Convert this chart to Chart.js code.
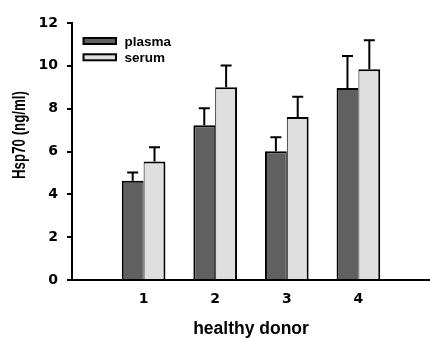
<!DOCTYPE html>
<html><head><meta charset="utf-8">
<script src="https://cdn.jsdelivr.net/npm/chart.js@4.4.1/dist/chart.umd.min.js"></script>
<style>html,body{margin:0;padding:0;background:#fff}#wrap{width:430px;height:338px;position:relative}</style>
</head><body><div id="wrap"><canvas id="c"></canvas></div>
<script>
// ---- data ----
const categories = ['1', '2', '3', '4'];
const seriesNames = ['plasma', 'serum'];
const plasma = [4.63, 7.22, 6.01, 8.96];
const plasmaErr = [0.39, 0.80, 0.65, 1.50];
const serum = [5.53, 9.00, 7.61, 9.84];
const serumErr = [0.67, 1.02, 0.95, 1.35];
const yTicks = [0, 2, 4, 6, 8, 10, 12];
const xTitle = 'healthy donor';
const yTitle = 'Hsp70 (ng/ml)';

const FONT = '"Liberation Sans", Arial, sans-serif';
const TICKFONT = '"DejaVu Sans", "Liberation Sans", sans-serif';
const labels = [''].concat(categories, ['']);
const pad = arr => [null].concat(arr, [null]);
const errs = [plasmaErr, serumErr];

const errorBarPlugin = {
  id: 'errorBars',
  afterDatasetsDraw(chart) {
    const ctx = chart.ctx, y = chart.scales.y;
    ctx.save();
    ctx.strokeStyle = '#000';
    ctx.lineWidth = 2;
    chart.data.datasets.forEach((ds, i) => {
      const meta = chart.getDatasetMeta(i);
      meta.data.forEach((el, j) => {
        const v = ds.data[j];
        if (v === null || v === undefined) return;
        const e = errs[i][j - 1];
        const x = el.x, y0 = el.y, y1 = y.getPixelForValue(v + e);
        ctx.beginPath();
        ctx.moveTo(x, y0); ctx.lineTo(x, y1);
        ctx.moveTo(x - 5.5, y1); ctx.lineTo(x + 5.5, y1);
        ctx.stroke();
      });
    });
    ctx.restore();
  }
};

const legendPlugin = {
  id: 'insideLegend',
  afterDraw(chart) {
    const ctx = chart.ctx;
    ctx.save();
    chart.data.datasets.forEach((ds, i) => {
      const top = 37 + i * 16.3;
      ctx.fillStyle = '#000';
      ctx.fillRect(82.5, top, 34.5, 8);
      ctx.fillStyle = ds.backgroundColor;
      ctx.fillRect(84.5, top + 2, 30.5, 4);
      ctx.fillStyle = '#000';
      ctx.font = 'bold 13.5px ' + FONT;
      ctx.textAlign = 'left';
      ctx.textBaseline = 'alphabetic';
      ctx.fillText(ds.label, 124.5, 45.7 + i * 16.6);
    });
    ctx.restore();
  }
};

const yTitlePlugin = {
  id: 'yTitle',
  afterDraw(chart) {
    const ctx = chart.ctx;
    ctx.save();
    ctx.font = 'bold 18px ' + FONT;
    const w = ctx.measureText(yTitle).width;
    ctx.translate(19.5, 135);
    ctx.rotate(-Math.PI / 2);
    ctx.scale(88 / w, 1);
    ctx.fillStyle = '#000';
    ctx.textAlign = 'center';
    ctx.textBaseline = 'middle';
    ctx.fillText(yTitle, 0, 1);
    ctx.restore();
  }
};

new Chart(document.getElementById('c'), {
  type: 'bar',
  data: {
    labels: labels,
    datasets: [
      { label: seriesNames[0], data: pad(plasma), backgroundColor: '#606060', borderColor: '#000',
        borderWidth: { left: 2, top: 2, right: 1, bottom: 0 }, borderSkipped: 'start' },
      { label: seriesNames[1], data: pad(serum), backgroundColor: '#dfdfdf', borderColor: '#000',
        borderWidth: { left: 1, top: 2, right: 2, bottom: 0 }, borderSkipped: 'start' }
    ]
  },
  options: {
    responsive: true,
    maintainAspectRatio: false,
    animation: false,
    layout: { padding: { top: 23, left: 0, right: 0, bottom: 0 } },
    datasets: { bar: { categoryPercentage: 0.61, barPercentage: 1.0 } },
    plugins: { legend: { display: false }, tooltip: { enabled: false } },
    scales: {
      x: {
        type: 'category',
        offset: false,
        grid: { display: true, drawOnChartArea: false, drawTicks: true, tickLength: 11,
                tickColor: 'rgba(0,0,0,0)', offset: false },
        border: { display: true, color: '#000', width: 2 },
        ticks: { color: '#000', font: { family: TICKFONT, size: 14, weight: 'bold' }, padding: 0,
                 autoSkip: false, maxRotation: 0 },
        title: { display: true, text: xTitle, color: '#000',
                 font: { family: FONT, size: 17.5, weight: 'bold', lineHeight: 1 },
                 padding: { top: 0, bottom: 0 } },
        afterFit: s => { s.height = 58; }
      },
      y: {
        min: 0, max: 12,
        afterBuildTicks: s => { s.ticks = yTicks.map(v => ({ value: v })); },
        grid: { display: true, drawOnChartArea: false, drawTicks: true, tickLength: 5, color: '#000', lineWidth: 2 },
        border: { display: true, color: '#000', width: 2 },
        ticks: { color: '#000', font: { family: TICKFONT, size: 14, weight: 'bold' }, padding: 9 },
        afterFit: s => { s.width = 72; }
      }
    }
  },
  plugins: [errorBarPlugin, legendPlugin, yTitlePlugin]
});
</script>
</body></html>
